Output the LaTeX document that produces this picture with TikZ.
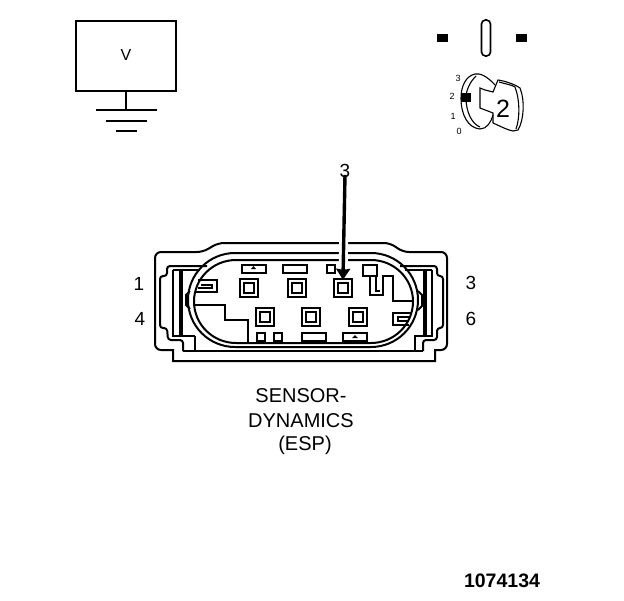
\documentclass[tikz,border=0pt]{standalone}
\usepackage{fontspec}
\setmainfont{Liberation Sans}
\usetikzlibrary{positioning,arrows.meta}

\tikzset{
  pic line/.style={line width=2pt,black},
  thin line/.style={line width=1.1pt,black},
  label text/.style={font=\fontsize{19}{22}\selectfont,inner sep=0pt},
  cap text/.style={font=\fontsize{20}{22}\selectfont,inner sep=0pt},
  pin/.style={draw,line width=2.4pt,minimum size=18pt,inner sep=0pt,
    path picture={\draw[line width=2pt] (path picture bounding box.center)
      +(-5pt,-5pt) rectangle +(5pt,5pt);}},
  slot/.style={draw,line width=2pt,minimum width=24pt,minimum height=8pt,inner sep=0pt},
  hole/.style={draw,line width=2pt,minimum size=8pt,inner sep=0pt},
  key pos/.style={font=\fontsize{9}{10}\selectfont,inner sep=0pt},
  block/.style={fill=black,inner sep=0pt}
}

\begin{document}
\begin{tikzpicture}[x=1pt,y=-1pt]
\useasboundingbox (0,0) rectangle (624,600);

% voltmeter
\node[draw,line width=2pt,minimum width=100pt,minimum height=70pt,inner sep=0pt] (meter) at (126,56) {};
\node[font=\fontsize{16}{18}\selectfont,inner sep=0pt] (volt) at (126,55) {V};
\coordinate (gnd) at (126,110);
\draw[pic line] (meter.south) -- (gnd);
\draw[pic line] (96,110) -- (157,110);
\draw[pic line] (106,121) -- (147,121);
\draw[pic line] (116,131) -- (137,131);

% ignition switch
\node[block,minimum width=11pt,minimum height=8pt] (lampl) at (442,38) {};
\node[block,minimum width=11pt,minimum height=8pt] (lampr) at (521,38) {};
\node[draw,line width=1.6pt,rounded corners=4pt,minimum width=9pt,minimum height=36pt,inner sep=0pt] (lampm) at (486,38) {};
\node[key pos] (k3) at (458,78) {3};
\node[key pos] (k2) at (452,96) {2};
\node[key pos] (k1) at (453,116) {1};
\node[key pos] (k0) at (459,131) {0};
\draw[thin line] (495,85) .. controls (487,76) and (480,73) .. (475,74)
  .. controls (466,76) and (461,86) .. (461,98)
  .. controls (461,115) and (468,128) .. (480,129)
  .. controls (487,129) and (491,122) .. (493,115);
\draw[thin line] (476,76) .. controls (470,82) and (466,90) .. (466,98)
  .. controls (466,112) and (472,124) .. (480,127);
\draw[thin line] (480,88) -- (480,108) -- (493,113) -- (493,123)
  .. controls (500,126) and (507,130) .. (513,131) -- (518,130)
  .. controls (524,120) and (525,100) .. (520,88)
  .. controls (514,84) and (505,81) .. (498,80) -- (493,92) -- (485,90) -- cycle;
\draw[thin line] (499,82) .. controls (506,84) and (512,85) .. (515,87)
  .. controls (520,100) and (520,118) .. (516,129);
\node[block,minimum width=10pt,minimum height=9pt] (keyblock) at (466,97.5) {};
\node[font=\fontsize{25}{27}\selectfont,inner sep=0pt] (keynum) at (503,109) {2};

% connector housing
\draw[pic line] (173,361) -- (173,350) [rounded corners=6pt] -- (155,350) -- (155,252) -- (203,252)
  -- (218,243) -- (390,243) -- (403,252) -- (447,252) -- (447,350) [sharp corners] -- (435,350) -- (435,361) -- cycle;
\draw[pic line,rounded corners=3pt] (183,351) -- (183,340) -- (168,340) -- (167,328) -- (160,328) -- (160,276)
  -- (167,276) -- (167,266) -- (207,266);
\draw[pic line,rounded corners=3pt] (423,351) -- (423,340) -- (437,340) -- (437,328) -- (443,328) -- (443,276)
  -- (437,276) -- (437,266) -- (400,266);
\draw[pic line] (173,270) -- (173,336) -- (195,336) (173,270) -- (200,270);
\draw[pic line] (432,270) -- (432,336) -- (414,336) (432,270) -- (405,270);
\draw[line width=3.4pt] (181,270) -- (181,336);
\draw[line width=3.4pt] (425,270) -- (425,336);
\draw[pic line] (195,336) -- (195,350) (415,336) -- (415,350);
\draw[pic line] (183,351) -- (423,351);
\draw[pic line] (190,291) -- (186,295) -- (186,305) -- (190,309);
\draw[pic line] (418,291) -- (422,295) -- (422,306) -- (418,310);
% inner shells
\draw[pic line] (235,253) -- (371,253) arc[start angle=90,end angle=-90,x radius=47pt,y radius=47pt]
  -- (235,347) arc[start angle=270,end angle=90,x radius=47pt,y radius=47pt] -- cycle;
\draw[pic line] (236,260) -- (371,260) arc[start angle=90,end angle=-90,x radius=42pt,y radius=41.5pt]
  -- (236,343) arc[start angle=270,end angle=90,x radius=42pt,y radius=41.5pt] -- cycle;
% keying walls
\draw[pic line] (194,305) -- (225,305) -- (225,320) -- (248,320) -- (248,344);
\draw[pic line] (414,301) -- (393,301) -- (393,276) -- (383,276) -- (383,295) -- (370,295) -- (370,276);
\draw[pic line] (363,265) rectangle (377,276);
\draw[pic line] (376,276) -- (376,291) -- (380,291);
% side latches
\draw[pic line] (198,280) -- (217,280) -- (217,292) -- (196,292);
\draw[pic line] (201,285) -- (212,285) -- (212,288) -- (198,288);
\draw[pic line] (412,313) -- (393,313) -- (393,325) -- (409,325);
\draw[pic line] (410,316.5) -- (398,316.5) -- (398,321) -- (408,321);
% pins
\node[pin] (pin1) at (249,288) {};
\node[pin] (pin2) at (297,288) {};
\node[pin] (pin3) at (343,288) {};
\node[pin] (pin4) at (265,317) {};
\node[pin] (pin5) at (311,317) {};
\node[pin] (pin6) at (358,317) {};
\node[slot] (slotA) at (253.5,268.5) {};
\node[slot] (slotB) at (295,268.5) {};
\node[hole] (holeA) at (331,268.5) {};
\node[hole] (holeB) at (261,336.5) {};
\node[hole] (holeC) at (277.5,336.5) {};
\node[slot] (slotC) at (314,336.5) {};
\node[slot] (slotD) at (355,336.5) {};
\fill (256,269) -- (253.5,266) -- (251,269) -- cycle;
\fill (358,338) -- (355,335) -- (352,338) -- cycle;
% pin pointer
\node[label text] (pt) at (345,171) {3};
\draw[line width=3.4pt,-{Stealth[length=11pt,width=14pt,inset=1pt]},shorten >=-2pt,
  preaction={draw,white,line width=9pt,-,shorten >=2pt,shorten <=56pt}] (pt.south) ++(0,3pt) -- (pin3.north);
% pin numbers
\node[label text] (n1) at (139,284) {1};
\node[label text] (n4) at (140,319) {4};
\node[label text] (n3) at (471,283) {3};
\node[label text] (n6) at (471,319) {6};
% caption
\node[cap text] (cap1) at (301,396) {SENSOR-};
\node[cap text,below=10pt of cap1] (cap2) {DYNAMICS};
\node[cap text] (cap3) at (305,445) {(ESP)};
\node[font=\bfseries\fontsize{19.5}{22}\selectfont,inner sep=0pt] (docno) at (502,581) {1074134};
\end{tikzpicture}
\end{document}
